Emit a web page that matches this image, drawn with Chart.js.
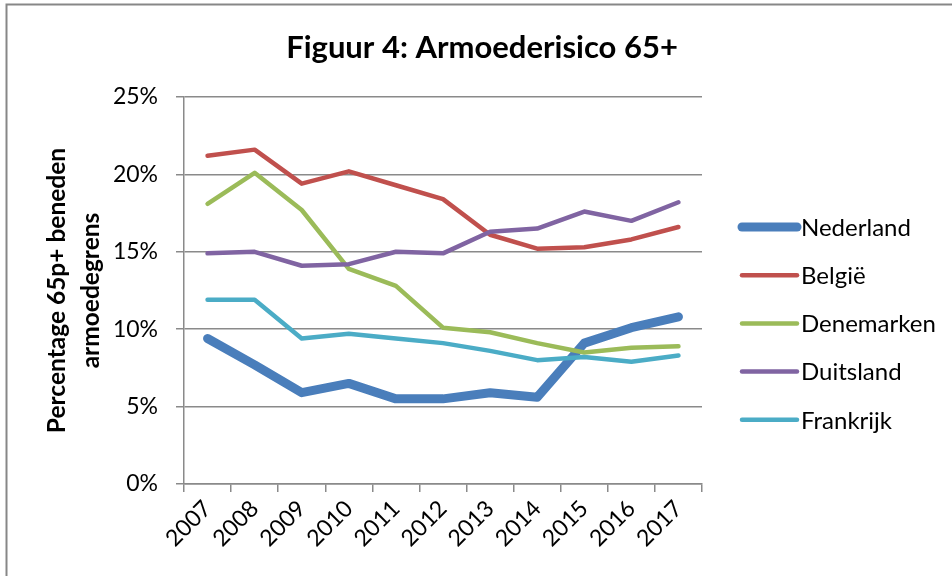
<!DOCTYPE html>
<html>
<head>
<meta charset="utf-8">
<script src="https://cdn.jsdelivr.net/npm/chart.js@4.4.1/dist/chart.umd.min.js"></script>
<style>
  body { margin: 0; background: #fff; }
  #wrap { width: 952px; height: 576px; position: relative; }
</style>
</head>
<body>
<div id="wrap"><canvas id="armoedeChart" width="952" height="576"></canvas></div>
<script>
// Chart data (percent of 65+ below poverty line)
const years = ['2007', '2008', '2009', '2010', '2011', '2012', '2013', '2014', '2015', '2016', '2017'];
const nederland  = [9.4, 7.7, 5.9, 6.5, 5.5, 5.5, 5.9, 5.6, 9.1, 10.1, 10.8];
const belgie     = [21.2, 21.6, 19.4, 20.2, 19.3, 18.4, 16.1, 15.2, 15.3, 15.8, 16.6];
const denemarken = [18.1, 20.1, 17.7, 13.9, 12.8, 10.1, 9.8, 9.1, 8.5, 8.8, 8.9];
const duitsland  = [14.9, 15.0, 14.1, 14.2, 15.0, 14.9, 16.3, 16.5, 17.6, 17.0, 18.2];
const frankrijk  = [11.9, 11.9, 9.4, 9.7, 9.4, 9.1, 8.6, 8.0, 8.2, 7.9, 8.3];
const yTicks = [0, 5, 10, 15, 20, 25];

const FONT = 'Lato, "Open Sans", sans-serif';
const gridColor = '#8a8a8a';

const series = [
    { label: 'Nederland',  data: nederland,  color: '#4a7ebb', width: 9 },
    { label: 'België',     data: belgie,     color: '#c0504d', width: 4.5 },
    { label: 'Denemarken', data: denemarken, color: '#9bbb59', width: 4.5 },
    { label: 'Duitsland',  data: duitsland,  color: '#8064a2', width: 4.5 },
    { label: 'Frankrijk',  data: frankrijk,  color: '#4bacc6', width: 4.5 }
];

// Title, legend and frame drawn by hand (Excel-like layout)
const decorPlugin = {
    id: 'decor',
    afterDraw(chart) {
        const ctx = chart.ctx;
        ctx.save();
        // frame
        ctx.strokeStyle = '#878787';
        ctx.lineWidth = 2;
        ctx.beginPath();
        ctx.moveTo(6.5, 576);
        ctx.lineTo(6.5, 4.5);
        ctx.lineTo(952, 4.5);
        ctx.stroke();

        // title
        ctx.fillStyle = '#000';
        ctx.font = 'bold 31px ' + FONT;
        ctx.textAlign = 'center';
        ctx.textBaseline = 'middle';
        ctx.fillText('Figuur 4: Armoederisico 65+', 482, 48);

        // legend
        ctx.font = '24px ' + FONT;
        ctx.textAlign = 'left';
        series.forEach((s, i) => {
            const y = 227 + i * 48.2;
            ctx.strokeStyle = s.color;
            ctx.lineWidth = s.width;
            ctx.lineCap = 'round';
            ctx.beginPath();
            ctx.moveTo(742, y);
            ctx.lineTo(797, y);
            ctx.stroke();
            ctx.fillStyle = '#000';
            ctx.fillText(s.label, 801, y + 1);
        });
        ctx.restore();
    }
};

const ctx = document.getElementById('armoedeChart');
new Chart(ctx, {
    type: 'line',
    data: {
        labels: years,
        datasets: series.map((s, i) => ({
            label: s.label,
            data: s.data,
            borderColor: s.color,
            backgroundColor: s.color,
            borderWidth: s.width,
            borderCapStyle: 'round',
            borderJoinStyle: 'round',
            pointRadius: 0,
            tension: 0,
            order: series.length - i
        }))
    },
    options: {
        responsive: false,
        animation: false,
        layout: {
            padding: { left: 20, top: 97, right: 250, bottom: 0 }
        },
        plugins: {
            legend: { display: false },
            title: { display: false },
            tooltip: { enabled: false }
        },
        scales: {
            x: {
                offset: true,
                grid: {
                    offset: true,
                    drawOnChartArea: false,
                    drawTicks: true,
                    tickLength: 8,
                    color: gridColor,
                    lineWidth: 1.5
                },
                border: { color: gridColor, width: 1.5 },
                ticks: {
                    color: '#000',
                    font: { family: FONT, size: 23 },
                    minRotation: 45,
                    maxRotation: 45,
                    padding: 3,
                    autoSkip: false
                },
                afterFit(scale) { scale.height = 92; }
            },
            y: {
                min: 0,
                max: 25,
                afterBuildTicks(scale) { scale.ticks = yTicks.map(v => ({ value: v })); },
                grid: {
                    drawTicks: true,
                    tickLength: 8,
                    color: gridColor,
                    lineWidth: 1.5
                },
                border: { color: gridColor, width: 1.5 },
                ticks: {
                    color: '#000',
                    font: { family: FONT, size: 23 },
                    padding: 18,
                    callback: v => v + '%'
                },
                title: {
                    display: true,
                    text: ['Percentage 65p+ beneden', 'armoedegrens'],
                    color: '#000',
                    font: { family: FONT, size: 24.5, weight: 'bold', lineHeight: 1.4 },
                    padding: { top: 20, bottom: 0 }
                },
                afterFit(scale) { scale.width = 164; }
            }
        }
    },
    plugins: [decorPlugin]
});
</script>
</body>
</html>
